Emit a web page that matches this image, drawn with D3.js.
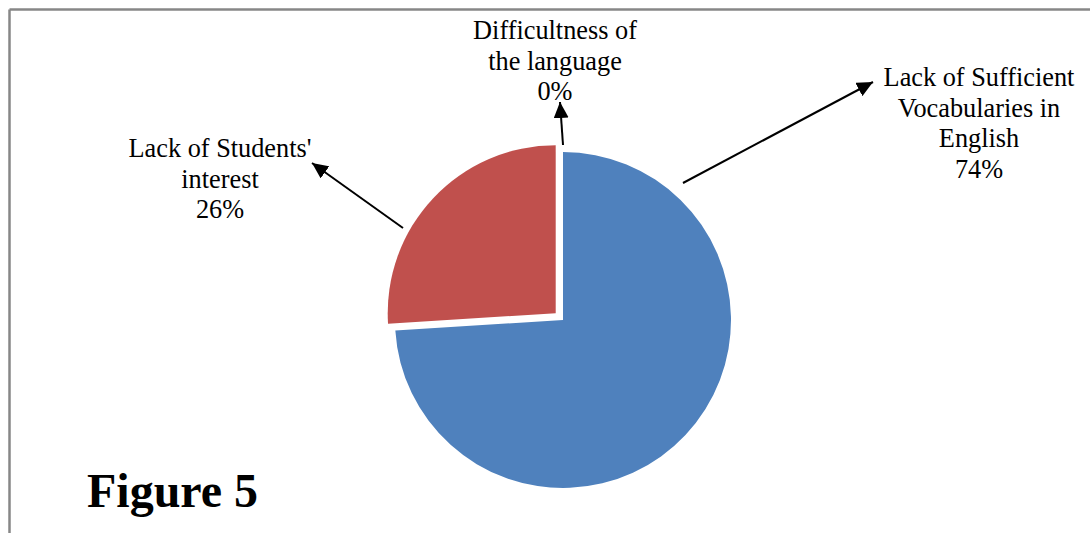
<!DOCTYPE html>
<html>
<head>
<meta charset="utf-8">
<script src="https://cdn.jsdelivr.net/npm/d3@7"></script>
<style>
  html, body { margin: 0; padding: 0; background: #fff; }
  svg { display: block; }
</style>
</head>
<body>
<svg id="chart" width="1090" height="533"></svg>
<script>
// ---- data ----
const categories = ["Lack of Sufficient Vocabularies in English", "Lack of Students' interest", "Difficultness of the language"];
const values = [74, 26, 0];
const labelLines = [
  ["Lack of Sufficient", "Vocabularies in", "English"],
  ["Lack of Students'", "interest"],
  ["Difficultness of", "the language"]
];
const colors = ["#4F81BD", "#C0504D", "#9BBB59"];
const title = "Figure 5";

// ---- layout ----
const W = 1090, H = 533;
const cx = 563, cy = 320, R = 168, explode = [0, 10, 0];
// label placement: center x, first baseline y
const labelPos = [
  { x: 979, y: 86 },
  { x: 220, y: 157 },
  { x: 555, y: 39 }
];
// leader lines: [start, end(arrow tip)]
const leaders = [
  [[683, 183], [873, 82]],
  [[403, 228], [312, 163]],
  [[563, 145], [560, 102]]
];
const lineH = 30.5;

const svg = d3.select("#chart");

// border
svg.append("line").attr("x1", 9.5).attr("y1", 9.5).attr("x2", W).attr("y2", 9.5)
  .attr("stroke", "#878787").attr("stroke-width", 2.5);
svg.append("line").attr("x1", 9.5).attr("y1", 9.5).attr("x2", 9.5).attr("y2", H)
  .attr("stroke", "#878787").attr("stroke-width", 2.5);

const total = d3.sum(values);
const data = categories.map((c, i) => ({ name: c, value: values[i], pct: values[i] / total, idx: i }));

const pie = d3.pie().sort(null).value(d => d.value).startAngle(0).endAngle(2 * Math.PI);
const arcs = pie(data);
const arc = d3.arc().innerRadius(0).outerRadius(R);

const g = svg.append("g").attr("transform", `translate(${cx},${cy})`);
g.selectAll("path.slice").data(arcs.filter(a => a.data.value > 0)).join("path")
  .attr("class", "slice")
  .attr("d", arc)
  .attr("fill", d => colors[d.data.idx])
  .attr("transform", d => {
    const m = (d.startAngle + d.endAngle) / 2;
    const e = explode[d.data.idx];
    return `translate(${e * Math.sin(m)},${-e * Math.cos(m)})`;
  });

// arrow marker
const defs = svg.append("defs");
defs.append("marker").attr("id", "arrow")
  .attr("viewBox", "0 0 10 10").attr("refX", 10).attr("refY", 5)
  .attr("preserveAspectRatio", "none")
  .attr("markerWidth", 16).attr("markerHeight", 15).attr("markerUnits", "userSpaceOnUse")
  .attr("orient", "auto")
  .append("path").attr("d", "M0,0 L10,5 L0,10 Z").attr("fill", "#000");

svg.selectAll("line.leader").data(leaders).join("line")
  .attr("class", "leader")
  .attr("x1", d => d[0][0]).attr("y1", d => d[0][1])
  .attr("x2", d => d[1][0]).attr("y2", d => d[1][1])
  .attr("stroke", "#000").attr("stroke-width", 2)
  .attr("marker-end", "url(#arrow)");

// labels
const fmt = d3.format(".0%");
data.forEach((d, i) => {
  const lines = labelLines[i].concat([fmt(d.pct)]);
  const t = svg.append("text")
    .attr("x", labelPos[i].x).attr("y", labelPos[i].y)
    .attr("text-anchor", "middle")
    .attr("font-family", "'Liberation Serif', 'Times New Roman', serif")
    .attr("font-size", 26.3).attr("fill", "#000");
  lines.forEach((l, j) => {
    t.append("tspan").attr("x", labelPos[i].x).attr("y", labelPos[i].y + j * lineH).text(l);
  });
});

// title
svg.append("text").attr("x", 87).attr("y", 507)
  .attr("font-family", "'Liberation Serif', 'Times New Roman', serif")
  .attr("font-weight", "bold").attr("font-size", 48).attr("fill", "#000")
  .text(title);
</script>
</body>
</html>
